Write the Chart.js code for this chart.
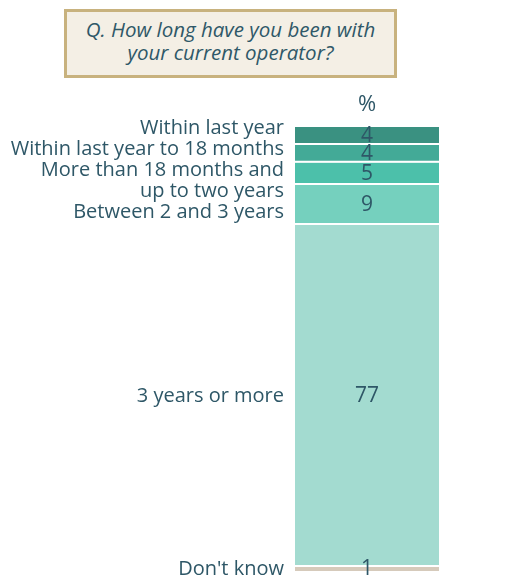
<!DOCTYPE html>
<html>
<head>
<meta charset="utf-8">
<script src="https://cdn.jsdelivr.net/npm/chart.js@4/dist/chart.umd.min.js"></script>
<style>
  html, body { margin: 0; padding: 0; background: #fff; }
  #wrap { position: relative; width: 526px; height: 576px; overflow: hidden; }
  #title {
    position: absolute; left: 64px; top: 9px; width: 327px; height: 57px;
    border: 3px solid #c8b27e; background: #f4efe5;
    font: italic 20.5px "Open Sans", sans-serif; color: #2f5868;
    text-align: center; line-height: 23px; padding-top: 6px; box-sizing: content-box;
    white-space: nowrap;
  }
  #title div { height: 23px; }
  canvas { position: absolute; left: 0; top: 0; }
</style>
</head>
<body>
<div id="wrap">
  <canvas id="c" width="526" height="576"></canvas>
  <div id="title"><div>Q. How long have you been with</div><div>your current operator?</div></div>
</div>
<script>
// 单柱堆叠:各时长段占比(%),自上而下
const CATEGORIES = [
  ["Within last year"],
  ["Within last year to 18 months"],
  ["More than 18 months and", "up to two years"],
  ["Between 2 and 3 years"],
  ["3 years or more"],
  ["Don't know"],
];
const VALUES = [4, 4, 5, 9, 77, 1];
const COLORS = ["#3a9181", "#43aa97", "#4cc0aa", "#75d0be", "#a3dbd0", "#d6cabb"];
const UNIT_LABEL = "%";

const INK = "#2e5767";
const LINE_H = 21;

// 左侧类别标签 + 柱内数值;标签按段中心放,重叠时成簇居中避让
const segLabels = {
  id: "segLabels",
  afterDatasetsDraw(chart) {
    const ctx = chart.ctx;
    const area = chart.chartArea;
    const items = [];
    chart.data.datasets.forEach(function (ds, i) {
      const el = chart.getDatasetMeta(i).data[0];
      const mid = (el.y + el.base) / 2;
      items.push({ lines: CATEGORIES[i], want: mid, h: CATEGORIES[i].length * LINE_H, x: el.x, val: ds.data[0] });
    });

    // 簇合并避让
    let clusters = [];
    for (const it of items) {
      clusters.push({ items: [it] });
      for (;;) {
        const c = clusters[clusters.length - 1];
        let off = 0, sum = 0;
        for (const m of c.items) { sum += m.want - off - m.h / 2; off += m.h; }
        c.top = sum / c.items.length;
        c.h = off;
        const p = clusters[clusters.length - 2];
        if (p && p.top + p.h > c.top) {
          p.items = p.items.concat(c.items);
          clusters.pop();
        } else break;
      }
    }

    ctx.save();
    ctx.fillStyle = INK;
    ctx.textBaseline = "middle";
    ctx.font = "20px 'Open Sans', sans-serif";
    ctx.textAlign = "right";
    for (const c of clusters) {
      let y = c.top;
      for (const m of c.items) {
        for (const line of m.lines) {
          ctx.fillText(line, area.left - 11, y + LINE_H / 2 + 1);
          y += LINE_H;
        }
      }
    }
    ctx.textAlign = "center";
    ctx.font = "21px 'Open Sans', sans-serif";
    for (const it of items) {
      ctx.fillText(String(it.val), it.x, it.want);
    }
    ctx.font = "22px 'Open Sans', sans-serif";
    ctx.fillText(UNIT_LABEL, (area.left + area.right) / 2, area.top - 22);
    ctx.restore();
  },
};

new Chart(document.getElementById("c"), {
  type: "bar",
  data: {
    labels: [""],
    datasets: VALUES.map(function (v, i) {
      return {
        label: CATEGORIES[i].join(" "),
        data: [v],
        backgroundColor: COLORS[i],
        borderColor: "#ffffff",
        borderWidth: i < VALUES.length - 1 ? { top: 0, left: 0, right: 0, bottom: 2 } : 0,
        borderSkipped: false,
        barPercentage: 1,
        categoryPercentage: 1,
      };
    }),
  },
  options: {
    responsive: false,
    animation: false,
    layout: { padding: { left: 295, right: 87, top: 127, bottom: 5 } },
    scales: {
      x: { stacked: true, display: false },
      y: { stacked: true, display: false, min: 0, max: 100, reverse: true },
    },
    plugins: { legend: { display: false }, tooltip: { enabled: false } },
  },
  plugins: [segLabels],
});
</script>
</body>
</html>
